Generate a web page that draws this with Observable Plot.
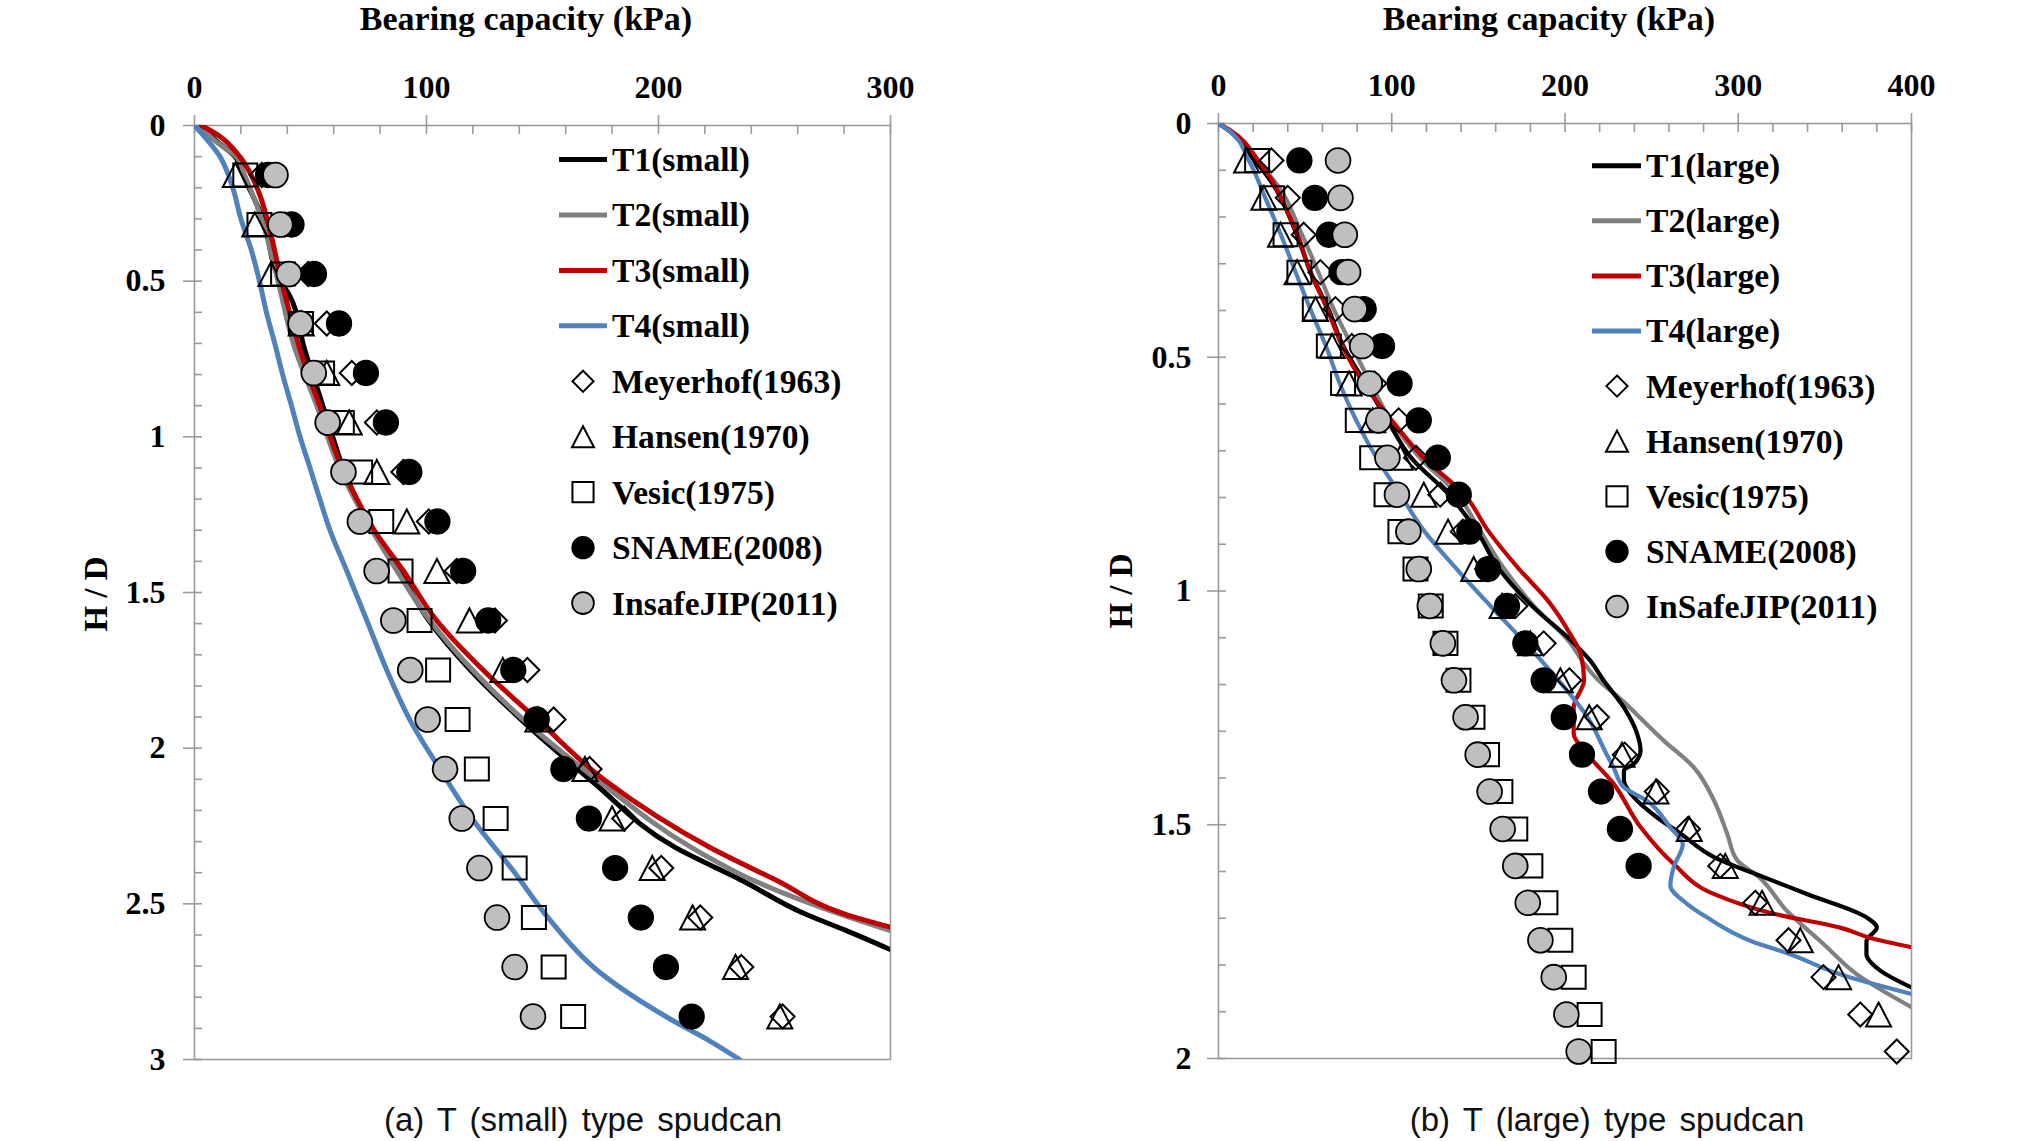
<!DOCTYPE html>
<html>
<head>
<meta charset="utf-8">
<script src="https://cdn.jsdelivr.net/npm/d3@7"></script>
<script src="https://cdn.jsdelivr.net/npm/@observablehq/plot@0.6"></script>
<style>
  html, body { margin: 0; padding: 0; background: #fff; }
  #wrap { position: relative; width: 2020px; height: 1141px; overflow: hidden; background: #fff; }
  .panel { position: absolute; top: 0; }
</style>
</head>
<body>
<div id="wrap"></div>
<script>
// ---------------- DATA ----------------
// (a) T (small) type spudcan : H/D rows of the analytical methods
const hSmall = [0.159, 0.318, 0.477, 0.636, 0.795, 0.954, 1.113, 1.272, 1.431, 1.590, 1.749, 1.908, 2.067, 2.226, 2.385, 2.544, 2.703, 2.862];
const meyerhofSmall = [29, 39, 49, 57, 67.8, 78.6, 90, 101, 113, 129.5, 143.5, 154.8, 170.3, 185.2, 201.2, 218, 235.7, 253.5];
const hansenSmall   = [17.6, 26, 33, 46, 57, 66.7, 78.6, 91.5, 104.5, 118.5, 132.9, 148, 168.3, 180, 197.3, 214.7, 233.2, 252.3];
const vesicSmall    = [21.9, 28, 38.2, 45.9, 55, 63.5, 71.4, 80.5, 88.8, 97, 105, 113.4, 121.7, 129.8, 138, 146.3, 154.8, 163.2];
const snameSmall    = [31.7, 41.8, 51.5, 62.3, 73.9, 82.5, 92.6, 104.7, 115.8, 126.6, 137.4, 147.5, 159, 170, 181.3, 192.4, 203.2, 214.3];
const insafeSmall   = [34.9, 37, 40.7, 45.7, 51.4, 57.4, 64.2, 71.3, 78.5, 85.7, 93, 100.5, 108, 115.2, 122.8, 130.4, 138, 145.9];

// (a) measured curves (H/D, kPa)
const t1SmallH = [0, 0.05, 0.1, 0.16, 0.3, 0.5, 0.54, 0.72, 0.87, 1.01, 1.1, 1.3, 1.43, 1.59, 1.75, 1.91, 2.104, 2.318, 2.425, 2.532, 2.586, 2.647];
const t1SmallQ = [3, 9.5, 17.5, 21, 29.5, 37, 40.5, 47.5, 54, 60, 64, 77, 88, 101, 119, 141, 171, 207, 236, 263, 281, 300];
const t2SmallH = [0, 0.05, 0.1, 0.16, 0.3, 0.5, 0.7, 0.9, 1.1, 1.3, 1.43, 1.59, 1.75, 1.91, 2.104, 2.318, 2.425, 2.532, 2.586];
const t2SmallQ = [2, 9, 18, 21.6, 28.9, 36, 42.6, 52.7, 62.5, 76.5, 87.2, 101.5, 120, 142, 174, 214, 241, 278, 300];
const t3SmallH = [0, 0.03, 0.1, 0.16, 0.22, 0.3, 0.4, 0.5, 0.6, 0.7, 0.8, 0.9, 1.0, 1.1, 1.2, 1.3, 1.43, 1.59, 1.75, 1.91, 2.104, 2.318, 2.425, 2.532, 2.575];
const t3SmallQ = [3, 10, 19.5, 24.5, 28, 31.3, 34.5, 37.5, 41, 44.7, 49, 54, 58.5, 63.5, 70, 77.5, 90, 104.4, 124.5, 148, 177, 222, 251, 280, 300];
const t4SmallH = [0, 0.1, 0.2, 0.3, 0.4, 0.5, 0.6, 0.7, 0.8, 0.9, 1.0, 1.1, 1.2, 1.3, 1.43, 1.59, 1.75, 1.91, 2.07, 2.23, 2.39, 2.55, 2.71, 2.87, 2.94, 3.0];
const t4SmallQ = [0, 11, 16.5, 20, 24.5, 28, 31, 34.6, 38, 41.8, 45.5, 49.8, 54, 58.4, 65.6, 74.3, 82.9, 92.9, 106, 120, 137, 153, 173, 205, 222, 235];

// (b) T (large) type spudcan : H/D rows of the analytical methods
const hLarge = [0.079, 0.159, 0.238, 0.318, 0.397, 0.476, 0.556, 0.635, 0.715, 0.794, 0.873, 0.953, 1.032, 1.112, 1.191, 1.270, 1.350, 1.429, 1.509, 1.588, 1.667, 1.747, 1.826, 1.906, 1.985];
const meyerhofLarge = [30.6, 40, 49.2, 58.8, 67.5, 77, 90, 104, 114, 128, 141, 155, 171.4, 187.7, 202.5, 218.5, 234.5, 253, 271, 289.6, 309.8, 329, 349.2, 370.4, 391.5];
const hansenLarge   = [16.2, 26.2, 35.8, 45.4, 56, 65.6, 75.4, 89, 105, 118.5, 132.5, 147.3, 163.7, 180, 197.3, 214, 232.9, 252.5, 271.7, 292.5, 313.7, 335.8, 357.9, 381];
const vesicLarge    = [22.3, 31, 38.7, 46.7, 55.6, 63.7, 71.9, 80.4, 88.7, 97, 105, 113.7, 122.5, 131, 138.5, 146.6, 155, 162.7, 171.3, 180, 188.7, 197.3, 205, 214.2, 222.3];
const snameLarge    = [46.7, 55.6, 63.7, 71, 83.8, 94.4, 104.5, 115.6, 126.6, 138.7, 144.8, 155.6, 166.5, 177.1, 187.7, 199.3, 209.8, 220.8, 231.7, 242.5];
const insafeLarge   = [69, 70.4, 72.9, 74.8, 78.6, 82.9, 87.3, 92.3, 97.5, 103, 109.6, 115.6, 122, 129.5, 135.9, 142.6, 149.6, 156.5, 164, 171.3, 178.5, 185.8, 193.5, 200.8, 207.9];

// (b) measured curves (H/D, kPa)
const t1LargeH = [0, 0.015, 0.079, 0.122, 0.236, 0.317, 0.397, 0.476, 0.557, 0.635, 0.714, 0.794, 0.873, 0.953, 1.032, 1.111, 1.149, 1.19, 1.249, 1.305, 1.341, 1.37, 1.384, 1.405, 1.441, 1.484, 1.519, 1.569, 1.612, 1.648, 1.698, 1.72, 1.749, 1.777, 1.812, 1.848];
const t1LargeQ = [0, 6, 21, 30, 45, 53, 63.5, 72, 85, 97.5, 111, 133, 149.3, 162, 181, 205, 214.6, 222, 234, 241.6, 243.6, 239.7, 234, 234, 239.7, 253, 266.7, 286, 314.7, 339.6, 374, 380, 374, 374, 382, 400];
const t2LargeH = [0, 0.015, 0.079, 0.122, 0.236, 0.317, 0.397, 0.476, 0.557, 0.635, 0.714, 0.794, 0.873, 0.953, 1.032, 1.111, 1.155, 1.19, 1.234, 1.27, 1.32, 1.377, 1.448, 1.519, 1.576, 1.612, 1.684, 1.755, 1.82, 1.89];
const t2LargeQ = [0, 6, 21, 32, 48, 57.5, 66.5, 77, 88, 99.5, 116, 138, 151.3, 165, 182, 203, 211, 219, 233, 243, 257, 274.3, 286, 293.6, 299.4, 312, 328, 349.2, 368.5, 400];
const t3LargeH = [0, 0.015, 0.079, 0.122, 0.159, 0.236, 0.317, 0.397, 0.476, 0.557, 0.635, 0.714, 0.794, 0.873, 0.953, 1.02, 1.092, 1.134, 1.191, 1.249, 1.305, 1.348, 1.412, 1.505, 1.584, 1.648, 1.69, 1.72, 1.744, 1.762];
const t3LargeQ = [0, 7, 23, 31, 36, 45.5, 53, 62.7, 71.5, 84, 100, 118, 142, 156, 173.5, 190, 203, 209, 211, 205, 205, 212.7, 228, 243.6, 262.8, 285.8, 320, 358.8, 378, 400];
const t4LargeH = [0, 0.015, 0.079, 0.159, 0.238, 0.317, 0.397, 0.476, 0.556, 0.635, 0.714, 0.794, 0.873, 0.953, 1.032, 1.111, 1.19, 1.27, 1.349, 1.377, 1.42, 1.448, 1.507, 1.541, 1.591, 1.63, 1.669, 1.698, 1.748, 1.777, 1.82, 1.862];
const t4LargeQ = [0, 6, 17.5, 27, 36, 44.4, 53, 62, 70, 79.5, 91, 105, 119, 137.5, 157, 177, 196, 213, 224, 228, 234, 247, 261, 268, 262.7, 260.8, 270.4, 281.9, 306.9, 330, 358.8, 400];

// tick values and texts
const xMajorSmall = [0, 100, 200, 300];
const xMajorLarge = [0, 100, 200, 300, 400];
const yMajorSmall = [0, 0.5, 1, 1.5, 2, 2.5, 3];
const yMajorLarge = [0, 0.5, 1, 1.5, 2];
const legendSmall = ["T1(small)", "T2(small)", "T3(small)", "T4(small)", "Meyerhof(1963)", "Hansen(1970)", "Vesic(1975)", "SNAME(2008)", "InsafeJIP(2011)"];
const legendLarge = ["T1(large)", "T2(large)", "T3(large)", "T4(large)", "Meyerhof(1963)", "Hansen(1970)", "Vesic(1975)", "SNAME(2008)", "InSafeJIP(2011)"];
const xTitle = "Bearing capacity (kPa)";
const yTitle = "H / D";
const captionSmall = "(a) T (small) type spudcan";
const captionLarge = "(b) T (large) type spudcan";

// ---------------- STYLE ----------------
const AXIS = "#9a9a9a";
const SERIF = "'Liberation Serif', 'Times New Roman', serif";
const LINE_COLORS = ["#000000", "#808080", "#c00000", "#4f81bd"];
const GRAY_FILL = "#bfbfbf";

function makeDiamond(k) { return {draw(c) { const s = 12 * k; c.moveTo(0, -s); c.lineTo(s, 0); c.lineTo(0, s); c.lineTo(-s, 0); c.closePath(); }}; }
function makeTriangle(k) { return {draw(c) { const w = 12.5 * k, h = 12 * k; c.moveTo(0, -h); c.lineTo(w, h); c.lineTo(-w, h); c.closePath(); }}; }
function makeSquare(k) { return {draw(c) { const s = 12 * k; c.rect(-s, -s * 0.96, 2 * s, 2 * s * 0.96); }}; }
function makeCircle(k) { return {draw(c) { const r = 12.4 * k; c.moveTo(r, 0); c.arc(0, 0, r, 0, 2 * Math.PI); c.closePath(); }}; }

const rows = (hs, qs) => hs.map((h, i) => ({h, q: qs[i]}));

function panel(o) {
  const range = (a, b, s) => d3.range(a, b + s / 2, s);
  const marks = [
    Plot.frame({stroke: AXIS, strokeWidth: 1.6}),
    Plot.axisX(o.xMajor, {anchor: "top", tickSize: 11, tickPadding: 17, stroke: AXIS, strokeWidth: 1.6,
      fill: "black", label: null, fontSize: 32, fontWeight: "bold", fontFamily: SERIF}),
    Plot.axisX(range(0, o.xMax, 20), {anchor: "top", tickSize: 8, dy: 8, stroke: AXIS, strokeWidth: 1.6, fill: "none", label: null}),
    Plot.axisY(o.yMajor, {anchor: "left", tickSize: 11, tickPadding: o.yPad, stroke: AXIS, strokeWidth: 1.6,
      fill: "black", label: null, fontSize: 32, fontWeight: "bold", fontFamily: SERIF, tickFormat: d => String(d)}),
    Plot.axisY(range(0, o.yMax, 0.1), {anchor: "left", tickSize: 8, dx: 8, stroke: AXIS, strokeWidth: 1.6, fill: "none", label: null})
  ];
  o.lines.forEach((l) => {
    marks.push(Plot.line(rows(l[0], l[1]), {x: "q", y: "h", stroke: l[2], strokeWidth: o.lw, clip: true,
      curve: "monotone-y", strokeLinejoin: "round"}));
  });
  const pts = o.points;
  marks.push(
    Plot.dot(rows(pts.h.slice(0, pts.meyerhof.length), pts.meyerhof), {x: "q", y: "h", symbol: makeDiamond(1), fill: "none", stroke: "black", strokeWidth: 2}),
    Plot.dot(rows(pts.h.slice(0, pts.hansen.length), pts.hansen), {x: "q", y: "h", symbol: makeTriangle(1), fill: "none", stroke: "black", strokeWidth: 2}),
    Plot.dot(rows(pts.h.slice(0, pts.vesic.length), pts.vesic), {x: "q", y: "h", symbol: makeSquare(1), fill: "none", stroke: "black", strokeWidth: 2}),
    Plot.dot(rows(pts.h.slice(0, pts.sname.length), pts.sname), {x: "q", y: "h", symbol: makeCircle(1), fill: "black", stroke: "black", strokeWidth: 1.5}),
    Plot.dot(rows(pts.h.slice(0, pts.insafe.length), pts.insafe), {x: "q", y: "h", symbol: makeCircle(1), fill: GRAY_FILL, stroke: "black", strokeWidth: 1.8})
  );
  return Plot.plot({
    width: o.width, height: 1141,
    marginTop: o.mt, marginBottom: o.mb, marginLeft: o.ml, marginRight: o.mr,
    style: {fontFamily: SERIF, background: "transparent", overflow: "visible"},
    x: {domain: [0, o.xMax]},
    y: {domain: [0, o.yMax], reverse: true},
    marks
  });
}

const wrap = document.getElementById("wrap");

const left = panel({
  width: 1010, ml: 194, mr: 120, mt: 125, mb: 82, yPad: 18, lw: 5,
  xMax: 300, yMax: 3, xMajor: xMajorSmall, yMajor: yMajorSmall,
  lines: [[t1SmallH, t1SmallQ, LINE_COLORS[0]], [t2SmallH, t2SmallQ, LINE_COLORS[1]], [t3SmallH, t3SmallQ, LINE_COLORS[2]], [t4SmallH, t4SmallQ, LINE_COLORS[3]]],
  points: {h: hSmall, meyerhof: meyerhofSmall, hansen: hansenSmall, vesic: vesicSmall, sname: snameSmall, insafe: insafeSmall}
});
const right = panel({
  width: 1010, ml: 208, mr: 109, mt: 123, mb: 83, yPad: 16, lw: 4.2,
  xMax: 400, yMax: 2, xMajor: xMajorLarge, yMajor: yMajorLarge,
  lines: [[t2LargeH, t2LargeQ, LINE_COLORS[1]], [t1LargeH, t1LargeQ, LINE_COLORS[0]], [t3LargeH, t3LargeQ, LINE_COLORS[2]], [t4LargeH, t4LargeQ, LINE_COLORS[3]]],
  points: {h: hLarge, meyerhof: meyerhofLarge, hansen: hansenLarge, vesic: vesicLarge, sname: snameLarge, insafe: insafeLarge}
});

const dl = document.createElement("div"); dl.className = "panel"; dl.style.left = "0px"; dl.style.width = "1010px"; dl.appendChild(left); wrap.appendChild(dl);
const dr = document.createElement("div"); dr.className = "panel"; dr.style.left = "1010px"; dr.style.width = "1010px"; dr.appendChild(right); wrap.appendChild(dr);

// ---------------- overlay texts & legends ----------------
const ov = d3.select(wrap).append("svg")
  .attr("width", 2020).attr("height", 1141)
  .style("position", "absolute").style("left", 0).style("top", 0).style("pointer-events", "none");

function serifText(x, y, txt, size, anchor, rotate) {
  const t = ov.append("text").attr("font-family", SERIF).attr("font-weight", "bold").attr("font-size", size)
    .attr("text-anchor", anchor).text(txt);
  if (rotate) t.attr("transform", `translate(${x},${y}) rotate(-90)`);
  else t.attr("x", x).attr("y", y);
  return t;
}
serifText(526, 30, xTitle, 34, "middle");
serifText(1549, 30, xTitle, 34, "middle");
serifText(107, 594, yTitle, 33, "middle", true);
serifText(1132, 591, yTitle, 33, "middle", true);

function caption(x, txt) {
  ov.append("text").attr("x", x).attr("y", 1131).attr("text-anchor", "middle")
    .attr("font-family", "'Liberation Sans', Arial, sans-serif").attr("font-size", 33)
    .attr("word-spacing", 4).attr("fill", "#111").text(txt);
}
caption(583, captionSmall);
caption(1607, captionLarge);

function legend(labels, lineX0, lineX1, markX, textX, y0, step) {
  const k = 0.88;
  const syms = [
    {sym: makeDiamond(k), fill: "none", sw: 2},
    {sym: makeTriangle(k), fill: "none", sw: 2},
    {sym: makeSquare(k), fill: "none", sw: 2},
    {sym: makeCircle(k), fill: "black", sw: 1.5},
    {sym: makeCircle(k), fill: GRAY_FILL, sw: 1.8}
  ];
  labels.forEach((lab, i) => {
    const y = y0 + i * step;
    if (i < 4) {
      ov.append("line").attr("x1", lineX0).attr("x2", lineX1).attr("y1", y).attr("y2", y)
        .attr("stroke", LINE_COLORS[i]).attr("stroke-width", 5);
    } else {
      const s = syms[i - 4];
      const p = d3.path(); s.sym.draw(p);
      ov.append("path").attr("d", p.toString()).attr("transform", `translate(${markX},${y})`)
        .attr("fill", s.fill).attr("stroke", "black").attr("stroke-width", s.sw);
    }
    ov.append("text").attr("x", textX).attr("y", y).attr("dy", "0.34em")
      .attr("font-family", SERIF).attr("font-weight", "bold").attr("font-size", 33.6).text(lab);
  });
}
legend(legendSmall, 559, 607, 583, 612, 159.5, 55.45);
legend(legendLarge, 1592, 1641, 1617, 1646, 165.7, 55.1);
</script>
</body>
</html>
